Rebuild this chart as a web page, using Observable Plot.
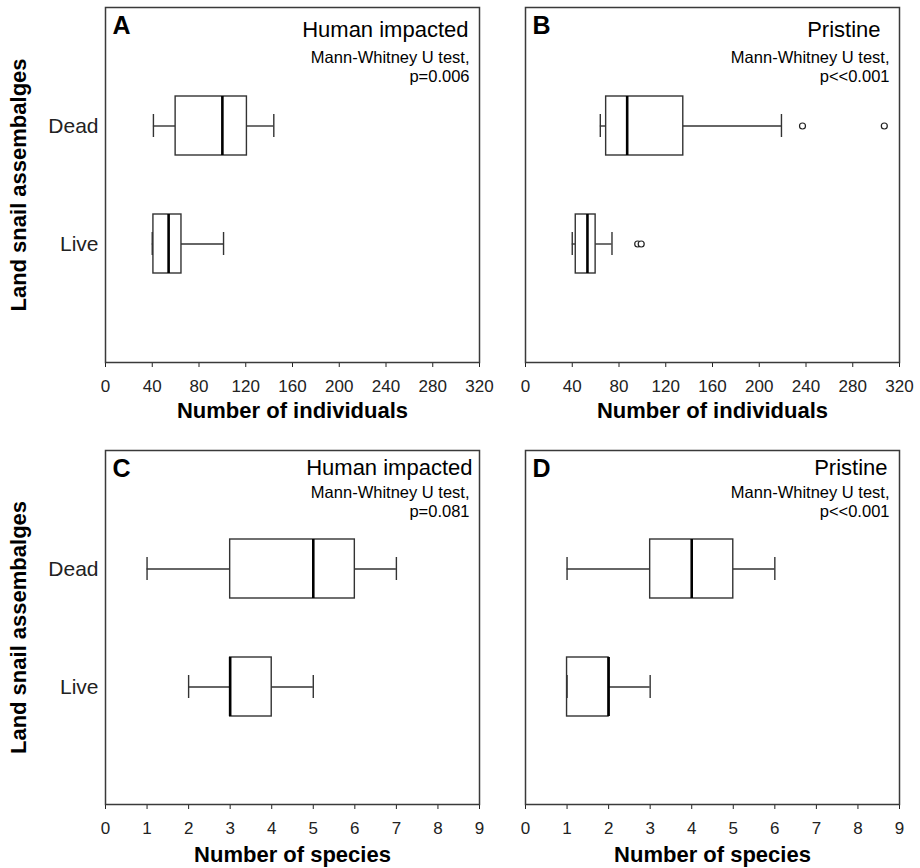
<!DOCTYPE html>
<html>
<head>
<meta charset="utf-8">
<script src="https://cdn.jsdelivr.net/npm/d3@7"></script>
<script src="https://cdn.jsdelivr.net/npm/@observablehq/plot@0.6"></script>
<style>
  body { margin: 0; background: #fff; }
  #chart { position: relative; width: 920px; height: 868px; background: #fff; }
  #chart svg { position: absolute; overflow: visible; }
  #chart [aria-label^="y-axis"] text { font-size: 21px; }
</style>
</head>
<body>
<div id="chart"></div>
<script>
// ---- data ----
const groups = ["Dead", "Live"];
// five-number summaries: [lower whisker, Q1, median, Q3, upper whisker]
const indHumanDead = [41, 60, 100, 121, 144];
const indHumanLive = [40, 41, 54, 65, 101];
const indPristineDead = [64, 69, 87, 135, 219];
const indPristineLive = [40, 43, 53, 60, 74];
const indPristineDeadOutliers = [237, 307];
const indPristineLiveOutliers = [96, 99];
const spHumanDead = [1, 3, 5, 6, 7];
const spHumanLive = [2, 3, 3, 4, 5];
const spPristineDead = [1, 3, 4, 5, 6];
const spPristineLive = [1, 1, 2, 2, 3];
const individualsTicks = [0, 40, 80, 120, 160, 200, 240, 280, 320];
const speciesTicks = [0, 1, 2, 3, 4, 5, 6, 7, 8, 9];
const panelLetters = ["A", "B", "C", "D"];
const panelTitles = ["Human impacted", "Pristine", "Human impacted", "Pristine"];
const pValues = ["p=0.006", "p<<0.001", "p=0.081", "p<<0.001"];
const testName = "Mann-Whitney U test,";
const xTitles = ["Number of individuals", "Number of species"];
const yTitle = "Land snail assembalges";

// ---- drawing ----
const FONT = "'Liberation Sans', Arial, Helvetica, sans-serif";
const NARROW = "'Liberation Sans Narrow', 'Arial Narrow', 'Liberation Sans', Arial, sans-serif";
const BOX = "#333";

function summaryRows(deadStats, liveStats) {
  return [deadStats, liveStats].map((s, i) => ({
    group: groups[i], lo: s[0], q1: s[1], med: s[2], q3: s[3], hi: s[4]
  }));
}
function outlierRows(deadOut, liveOut) {
  return [
    ...deadOut.map(v => ({group: groups[0], value: v})),
    ...liveOut.map(v => ({group: groups[1], value: v}))
  ];
}

function panel(o) {
  const rows = summaryRows(o.dead, o.live);
  const outs = outlierRows(o.deadOut || [], o.liveOut || []);
  const marks = [
    Plot.frame({stroke: "#3a3a3a", strokeWidth: 1.5}),
    Plot.ruleY(rows, {y: "group", x1: "lo", x2: "q1", stroke: BOX, strokeWidth: 1.4}),
    Plot.ruleY(rows, {y: "group", x1: "q3", x2: "hi", stroke: BOX, strokeWidth: 1.4}),
    Plot.barX(rows, {y: "group", x1: "q1", x2: "q3", fill: "white", stroke: BOX, strokeWidth: 1.4}),
    Plot.tickX(rows, {y: "group", x: "med", stroke: "#000", strokeWidth: 2.6}),
    Plot.tickX(rows, {y: "group", x: "lo", stroke: BOX, strokeWidth: 1.4, insetTop: 18, insetBottom: 18}),
    Plot.tickX(rows, {y: "group", x: "hi", stroke: BOX, strokeWidth: 1.4, insetTop: 18, insetBottom: 18}),
    Plot.dot(outs, {x: "value", y: "group", r: 3, stroke: "#222", strokeWidth: 1.2, fill: "white"}),
    Plot.text([o.letter], {text: d => d, frameAnchor: "top-left", textAnchor: "start", lineAnchor: "top",
      dx: 7, dy: o.letterDy, fontSize: 25, fontWeight: "bold", fill: "#000"}),
    Plot.text([o.title], {text: d => d, frameAnchor: "top-right", textAnchor: "end", lineAnchor: "top",
      dx: o.titleDx, dy: o.titleDy, fontSize: 22, fill: "#000"}),
    Plot.text([testName + "\n" + o.p], {text: d => d, frameAnchor: "top-right", textAnchor: "end", lineAnchor: "top",
      dx: -10, dy: o.noteDy, fontSize: 16.5, lineHeight: 1.15, fill: "#000"}),
    Plot.text([o.xTitle], {text: d => d, frameAnchor: "bottom", textAnchor: "middle", lineAnchor: "top",
      dy: o.xTitleDy, fontSize: 22, fontWeight: "bold", fill: "#000"})
  ];
  if (o.showYTitle) {
    marks.push(Plot.text([yTitle], {text: d => d, frameAnchor: "left", textAnchor: "middle", lineAnchor: "middle",
      rotate: -90, dx: -87, dy: 0, fontSize: 22, fontWeight: "bold", fontFamily: NARROW, fill: "#000"}));
  }
  const svg = Plot.plot({
    width: o.ml + 374 + o.mr,
    height: o.mt + o.innerH + o.mb,
    marginLeft: o.ml, marginRight: o.mr, marginTop: o.mt, marginBottom: o.mb,
    style: {fontFamily: FONT, fontSize: "17px", color: "#222", background: "transparent", overflow: "visible"},
    x: {domain: [o.ticks[0], o.ticks[o.ticks.length - 1]], ticks: o.ticks, tickSize: 5, tickPadding: 12, label: null},
    y: {type: "band", domain: groups, paddingInner: 0.5, paddingOuter: 0.75, tickSize: 0, tickPadding: 7, label: null,
        axis: o.showYAxis ? "left" : null},
    marks
  });
  svg.style.position = "absolute";
  svg.style.left = o.left + "px";
  svg.style.top = o.top + "px";
  return svg;
}

const chart = document.getElementById("chart");
const topRow = {top: 0, mt: 7, innerH: 355, mb: 65, letterDy: 8.5, titleDy: 13.4, noteDy: 42.3, xTitleDy: 39.4};
const botRow = {top: 427, mt: 23, innerH: 354, mb: 64, letterDy: 9, titleDy: 8.4, noteDy: 34.3, xTitleDy: 42};
const leftCol = {left: 0, ml: 105, mr: 20, showYTitle: true, showYAxis: true};
const rightCol = {left: 499, ml: 26, mr: 21, showYTitle: false, showYAxis: false};

chart.appendChild(panel({...topRow, ...leftCol, dead: indHumanDead, live: indHumanLive,
  ticks: individualsTicks, letter: panelLetters[0], title: panelTitles[0], p: pValues[0], xTitle: xTitles[0], titleDx: -11}));
chart.appendChild(panel({...topRow, ...rightCol, dead: indPristineDead, live: indPristineLive,
  deadOut: indPristineDeadOutliers, liveOut: indPristineLiveOutliers,
  ticks: individualsTicks, letter: panelLetters[1], title: panelTitles[1], p: pValues[1], xTitle: xTitles[0], titleDx: -19}));
chart.appendChild(panel({...botRow, ...leftCol, dead: spHumanDead, live: spHumanLive,
  ticks: speciesTicks, letter: panelLetters[2], title: panelTitles[2], p: pValues[2], xTitle: xTitles[1], titleDx: -7}));
chart.appendChild(panel({...botRow, ...rightCol, dead: spPristineDead, live: spPristineLive,
  ticks: speciesTicks, letter: panelLetters[3], title: panelTitles[3], p: pValues[3], xTitle: xTitles[1], titleDx: -12}));
</script>
</body>
</html>
